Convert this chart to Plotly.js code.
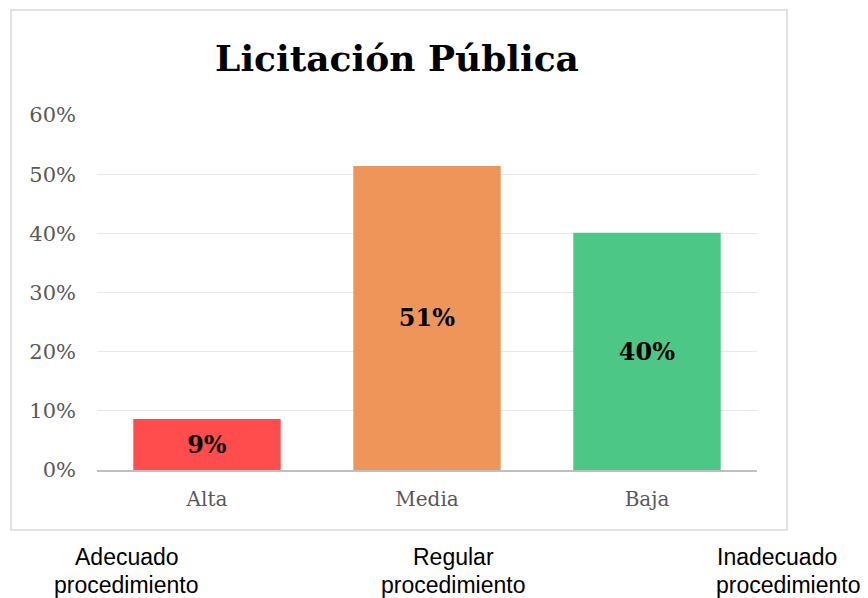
<!DOCTYPE html>
<html>
<head>
<meta charset="utf-8">
<script src="https://cdn.plot.ly/plotly-3.0.1.min.js"></script>
<style>html,body{margin:0;padding:0;background:#fff;}#chart{width:868px;height:598px;}</style>
</head>
<body>
<div id="chart"></div>
<script>
const categories = ["Alta", "Media", "Baja"];
const values = [0.086, 0.514, 0.401];
const barColors = ["#FF4D4D", "#EE955A", "#4DC785"];
const chartTitle = "Licitación Pública";
const bottomLines = [
  ["Adecuado", "procedimiento"],
  ["Regular", "procedimiento"],
  ["Inadecuado", "procedimiento"]
];

const serif = "DejaVu Serif, Liberation Serif, serif";
const L = 97, R = 757, T = 115, B = 470, W = 868, H = 598;
const pw = R - L, ph = B - T;
const px = x => (x - L) / pw;
const py = y => (B - y) / ph;

const trace = {
  type: "bar",
  x: categories,
  y: values,
  marker: {color: barColors},
  texttemplate: "%{y:.0%}",
  textposition: "inside",
  insidetextanchor: "middle",
  textangle: 0,
  constraintext: "none",
  textfont: {family: serif, size: 24, color: "#000", weight: "bold"},
  hoverinfo: "none"
};

const lineCenters = [[127, 126], [453, 453], [777, 788]];
const lineYs = [557, 585];
const annotations = [];
bottomLines.forEach((lines, i) => {
  lines.forEach((t, j) => {
    annotations.push({
      text: t, showarrow: false, xref: "paper", yref: "paper",
      x: px(lineCenters[i][j]), y: py(lineYs[j]),
      xanchor: "center", yanchor: "middle",
      font: {family: "Liberation Sans, Arial, sans-serif", size: 23, color: "#000"}
    });
  });
});

const layout = {
  width: W, height: H,
  margin: {l: L, r: W - R, t: T, b: H - B, pad: 0},
  paper_bgcolor: "#fff", plot_bgcolor: "#fff",
  showlegend: false,
  bargap: 0.33,
  title: {
    text: chartTitle,
    font: {family: serif, size: 36, color: "#000", weight: "bold"},
    xref: "paper", x: px(397), xanchor: "center",
    yref: "container", y: 1 - 58 / H, yanchor: "middle"
  },
  xaxis: {
    showgrid: false, zeroline: false,
    showline: true, linecolor: "#BFBFBF", linewidth: 1.5,
    ticks: "", ticklabelstandoff: 10,
    tickfont: {family: serif, size: 20, color: "#595959"}
  },
  yaxis: {
    range: [0, 0.6], dtick: 0.1, tickformat: ".0%",
    showgrid: true, gridcolor: "#E8E8E8", gridwidth: 1.2,
    zeroline: false, showline: false, ticks: "",
    ticklabelstandoff: 20,
    tickfont: {family: serif, size: 21, color: "#595959"}
  },
  shapes: [{
    type: "rect", xref: "paper", yref: "paper",
    x0: px(11), x1: px(787), y0: py(530), y1: py(10),
    line: {color: "#D9D9D9", width: 1.5}, fillcolor: "rgba(0,0,0,0)", layer: "below"
  }],
  annotations: annotations
};

Plotly.newPlot("chart", [trace], layout, {displayModeBar: false, staticPlot: true});
</script>
</body>
</html>
